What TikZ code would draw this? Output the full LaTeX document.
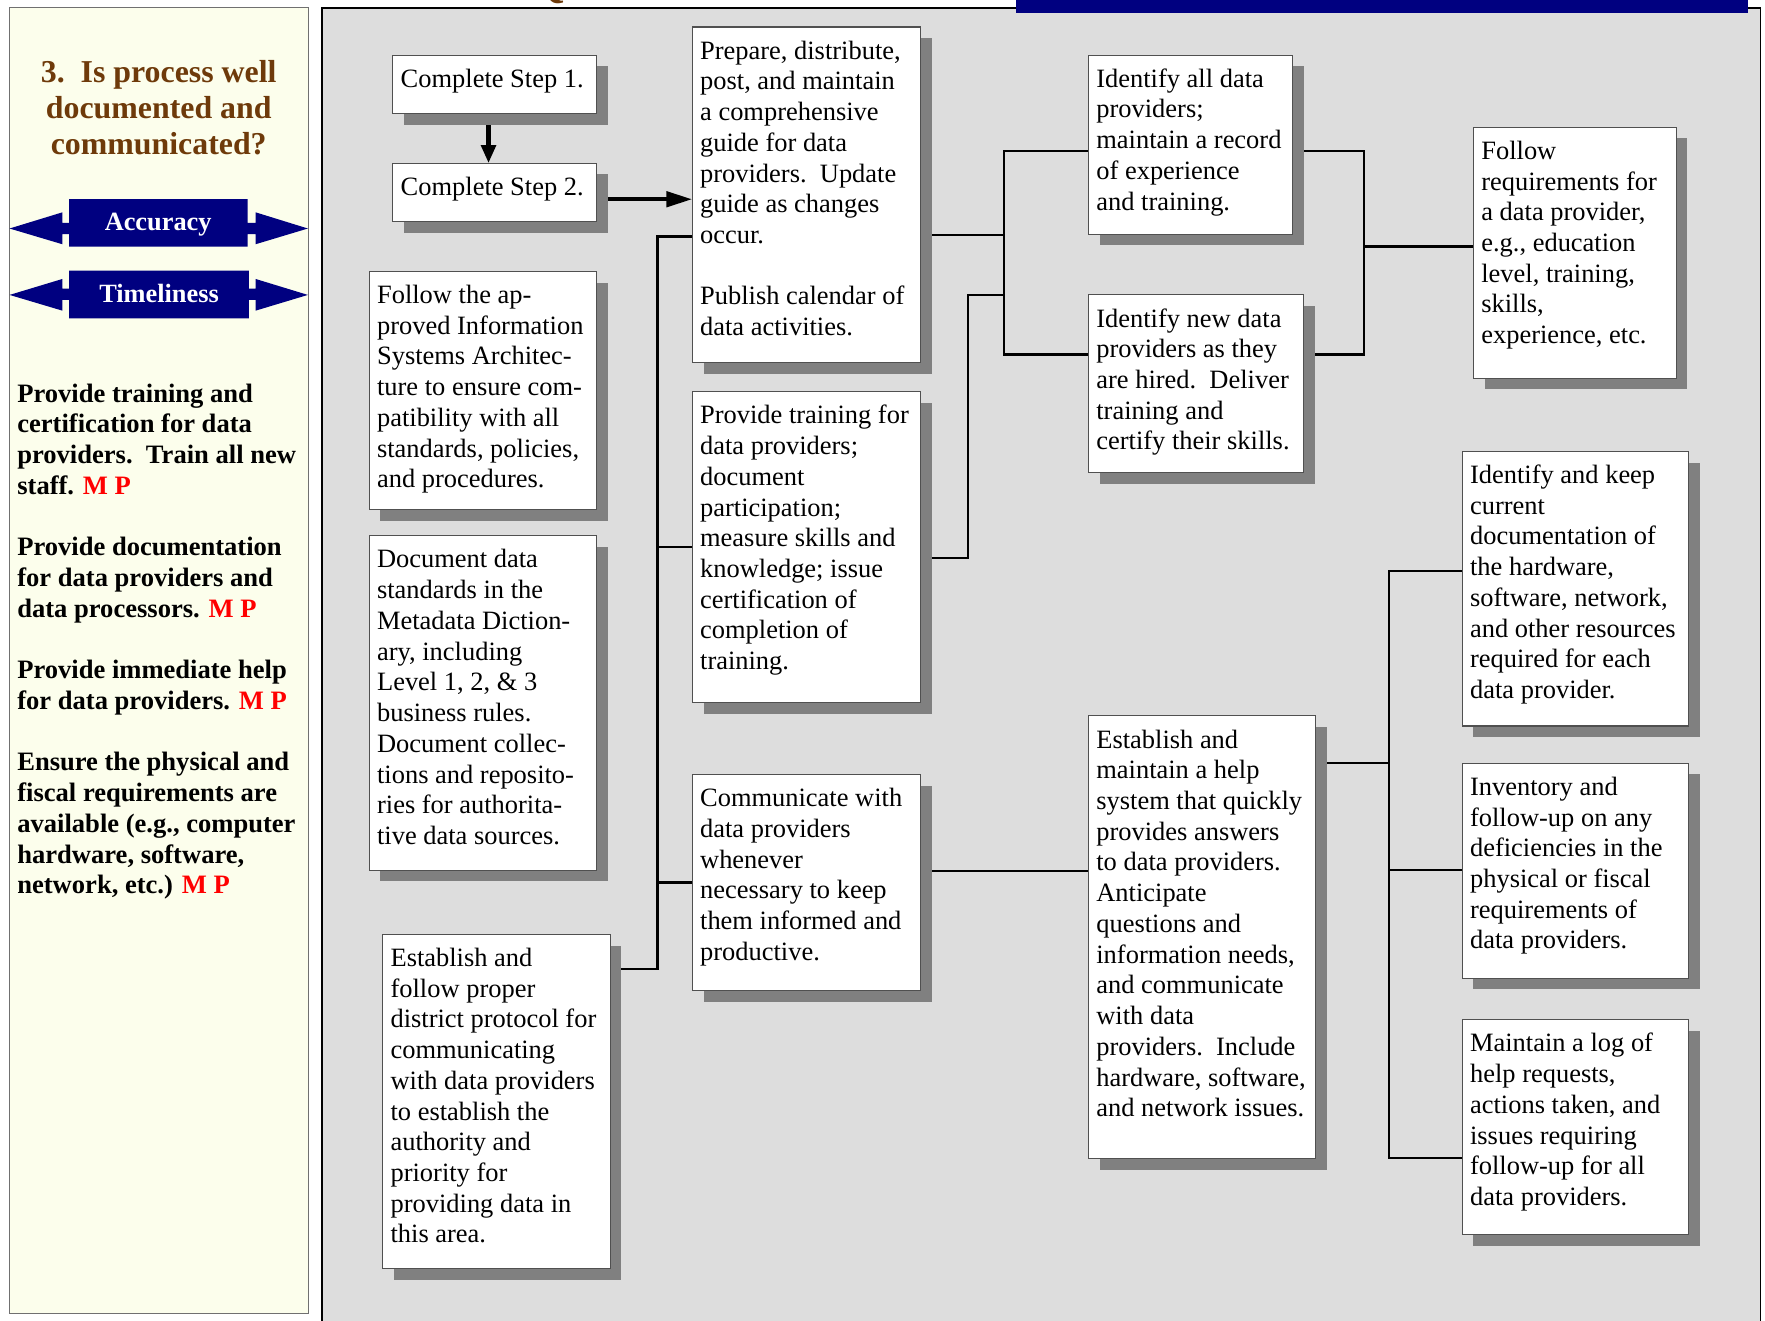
\documentclass[tikz,border=0pt]{standalone}
\usepackage{fontspec}
\setmainfont{Liberation Serif}
\usetikzlibrary{arrows.meta,shadows,calc}
\definecolor{panelgray}{HTML}{DDDDDD}
\definecolor{shadowc}{HTML}{808080}
\definecolor{ivoryc}{HTML}{FCFEEC}
\definecolor{panelborder}{HTML}{707070}
\definecolor{navyc}{HTML}{000080}
\definecolor{brownt}{HTML}{6E3A0A}
\definecolor{mpred}{HTML}{FF0000}
\definecolor{boxborder}{HTML}{505050}
\pgfdeclarelayer{backlayer}
\pgfdeclarelayer{connlayer}
\pgfsetlayers{backlayer,connlayer,main}
\newcommand{\boxfont}{\fontsize{11.75pt}{13.65pt}\selectfont}
\newcommand{\mybox}[6]{%
  \node[boxst, minimum width={(#4-#2)*0.5pt}, minimum height={(#5-#3)*0.5pt}] (#1) at ({(#2+#4)/2},{(#3+#5)/2}) {};
  \node[txtst] (#1t) at ([xshift=3.5pt,yshift=-4.7pt]#1.north west) {\strut #6};
}
\tikzset{
  boxst/.style={rectangle, draw=boxborder, line width=0.5pt, fill=white, inner sep=0pt, outer sep=0pt,
    drop shadow={shadow xshift=5pt, shadow yshift=-5pt, fill=shadowc, opacity=1}},
  txtst/.style={anchor=north west, inner sep=0pt, outer sep=0pt, align=left, font=\boxfont, text=black},
  connst/.style={draw=black, line width=1pt},
  bigarrh/.style={draw=black, line width=1.9pt, -{Triangle[length=11.5pt,width=6.7pt]}},
  bigarrv/.style={draw=black, line width=2pt, -{Triangle[length=8pt,width=6.3pt]}},
  labst/.style={anchor=base, inner sep=0pt, text=white, font=\bfseries\fontsize{11.7pt}{14pt}\selectfont},
}
\begin{document}
\begin{tikzpicture}[x=0.5pt,y=-0.5pt]
\useasboundingbox (0,0) rectangle (1568,1173);

% main gray panel
\begin{pgfonlayer}{backlayer}
  \fill[panelgray] (286,7) rectangle (1564,1190);
  \draw[black, line width=1.2pt] (286,1190) -- (286,7) -- (1564,7);
  \draw[black, line width=0.7pt] (1564,7) -- (1564,1190);
\end{pgfonlayer}
\fill[navyc] (903,-3) rectangle (1553,11.8);
\node[anchor=south, inner sep=0pt, text=brownt, font=\bfseries\fontsize{20pt}{20pt}\selectfont] (qtail) at (487,3.5) {Q};

% left panel
\filldraw[fill=ivoryc, draw=panelborder, line width=0.6pt] (8.5,6.5) rectangle (273.8,1167);
\node[anchor=north, inner sep=0pt, align=center, text=brownt, font=\bfseries\fontsize{14.15pt}{16.1pt}\selectfont] (title) at (141,50) {\strut 3.~~Is process well\\ documented and\\ communicated?};

\fill[navyc] (8.5,203) -- (55.5,188.6) -- (55.5,198) -- (61.3,198) -- (61.3,177) -- (220,177) -- (220,198) -- (227,198) -- (227,188.6) -- (273.5,203) -- (227,217) -- (227,208) -- (220,208) -- (220,219) -- (61.3,219) -- (61.3,208) -- (55.5,208) -- (55.5,217) -- cycle;
\fill[navyc] (8.5,262) -- (55.5,247.8) -- (55.5,256.5) -- (61.3,256.5) -- (61.3,240.5) -- (221,240.5) -- (221,256.5) -- (227,256.5) -- (227,247.8) -- (273.5,262) -- (227,276) -- (227,266.5) -- (221,266.5) -- (221,282.8) -- (61.3,282.8) -- (61.3,266.5) -- (55.5,266.5) -- (55.5,276) -- cycle;
\node[labst] (acc) at (140.5,205) {Accuracy};
\node[labst] (tim) at (141.3,269) {Timeliness};

\node[anchor=north west, inner sep=0pt, align=left, font=\bfseries\fontsize{11.8pt}{13.65pt}\selectfont] (lefttext) at (15,337.7) {\strut Provide training and\\ certification for data\\ providers.~~Train all new\\ staff. \textcolor{mpred}{M P}\\[13.65pt] Provide documentation\\ for data providers and\\ data processors. \textcolor{mpred}{M P}\\[13.65pt] Provide immediate help\\ for data providers. \textcolor{mpred}{M P}\\[13.65pt] Ensure the physical and\\ fiscal requirements are\\ available (e.g., computer\\ hardware, software,\\ network, etc.) \textcolor{mpred}{M P}};

% boxes
\mybox{b1}{349}{49}{530}{101}{Complete Step 1.}
\mybox{b2}{349}{145}{530}{197}{Complete Step 2.}
\mybox{b3}{328}{241}{530}{453}{Follow the ap-\\ proved Information\\ Systems Architec-\\ ture to ensure com-\\ patibility with all\\ standards, policies,\\ and procedures.}
\mybox{b4}{328}{476}{530}{773}{Document data\\ standards in the\\ Metadata Diction-\\ ary, including\\ Level 1, 2, \& 3\\ business rules.\\ Document collec-\\ tions and reposito-\\ ries for authorita-\\ tive data sources.}
\mybox{b5}{340}{830}{542}{1127}{Establish and\\ follow proper\\ district protocol for\\ communicating\\ with data providers\\ to establish the\\ authority and\\ priority for\\ providing data in\\ this area.}
\mybox{b6}{615}{24}{818}{322}{Prepare, distribute,\\ post, and maintain\\ a comprehensive\\ guide for data\\ providers.~~Update\\ guide as changes\\ occur.\\[13.65pt] Publish calendar of\\ data activities.}
\mybox{b7}{615}{348}{818}{624}{Provide training for\\ data providers;\\ document\\ participation;\\ measure skills and\\ knowledge; issue\\ certification of\\ completion of\\ training.}
\mybox{b8}{615}{688}{818}{880}{Communicate with\\ data providers\\ whenever\\ necessary to keep\\ them informed and\\ productive.}
\mybox{b9}{967}{49}{1148}{208}{Identify all data\\ providers;\\ maintain a record\\ of experience\\ and training.}
\mybox{b10}{967}{262}{1158}{420}{Identify new data\\ providers as they\\ are hired.~~Deliver\\ training and\\ certify their skills.}
\mybox{b11}{1309}{113}{1489}{336}{Follow\\ requirements for\\ a data provider,\\ e.g., education\\ level, training,\\ skills,\\ experience, etc.}
\mybox{b12}{967}{636}{1169}{1029}{Establish and\\ maintain a help\\ system that quickly\\ provides answers\\ to data providers.\\ Anticipate\\ questions and\\ information needs,\\ and communicate\\ with data\\ providers.~~Include\\ hardware, software,\\ and network issues.}
\mybox{b13}{1299}{401}{1500}{645}{Identify and keep\\ current\\ documentation of\\ the hardware,\\ software, network,\\ and other resources\\ required for each\\ data provider.}
\mybox{b14}{1299}{678}{1500}{869}{Inventory and\\ follow-up on any\\ deficiencies in the\\ physical or fiscal\\ requirements of\\ data providers.}
\mybox{b15}{1299}{906}{1500}{1097}{Maintain a log of\\ help requests,\\ actions taken, and\\ issues requiring\\ follow-up for all\\ data providers.}

% junction coordinates
\coordinate (a0) at (434,120);
\coordinate (a1) at (575,177);
\coordinate (j1) at (584,861);
\coordinate (j2) at (584,210);
\coordinate (j3) at (584,486);
\coordinate (j4) at (584,784);
\coordinate (k1) at (892,209);
\coordinate (k2) at (892,134);
\coordinate (k3) at (892,315);
\coordinate (k4) at (860,496);
\coordinate (k5) at (860,262);
\coordinate (k6) at (890,773.5);
\coordinate (m1) at (1212,134);
\coordinate (m2) at (1212,315);
\coordinate (m3) at (1212,219);
\coordinate (n0) at (1234,678);
\coordinate (n1) at (1234,507);
\coordinate (n2) at (1234,773);
\coordinate (n3) at (1234,1029);

\begin{pgfonlayer}{connlayer}
  \draw[bigarrv] (b1.south -| a0) -- (b2.north -| a0);
  \draw[bigarrh] (b2.east |- a1) -- (b6.west |- a1);
  \draw[connst] (b5.east |- j1) -- (j1) -- (j2) -- (b6.west |- j2);
  \draw[connst] (j3) -- (b7.west |- j3);
  \draw[connst] (j4) -- (b8.west |- j4);
  \draw[connst] (b6.east |- k1) -- (k1);
  \draw[connst] (b9.west |- k2) -- (k2) -- (k3) -- (b10.west |- k3);
  \draw[connst] (b7.east |- k4) -- (k4) -- (k5) -- (k5 -| k1);
  \draw[connst] (b8.east |- k6) -- (b12.west |- k6);
  \draw[connst] (b9.east |- m1) -- (m1) -- (m2) -- (b10.east |- m2);
  \draw[connst] (m3) -- (b11.west |- m3);
  \draw[connst] (b12.east |- n0) -- (n0);
  \draw[connst] (b13.west |- n1) -- (n1) -- (n3) -- (b15.west |- n3);
  \draw[connst] (n2) -- (b14.west |- n2);
\end{pgfonlayer}
\end{tikzpicture}
\end{document}
